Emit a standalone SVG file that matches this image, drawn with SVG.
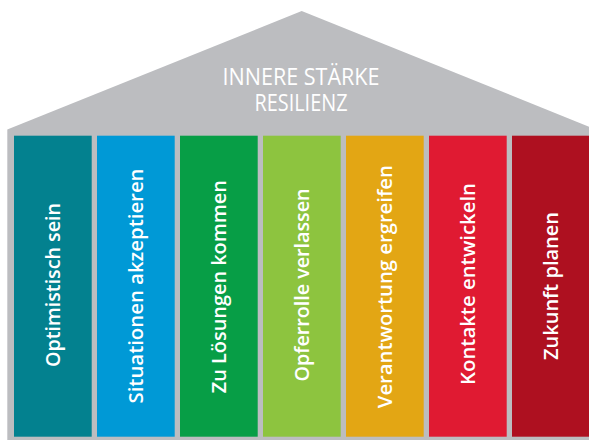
<svg xmlns="http://www.w3.org/2000/svg" width="589" height="440" viewBox="0 0 589 440">
  <style>
    .house { fill: #bcbdc0; }
    .roof-label { font-family: "Open Sans", "Liberation Sans", sans-serif; font-size: 24px; font-weight: 500; fill: #ffffff; text-anchor: middle; }
    .pillar-label { font-family: "Open Sans", "Liberation Sans", sans-serif; font-size: 19px; font-weight: 600; fill: #ffffff; text-anchor: middle; }
  </style>

  <!-- house body: roof triangle with the wall behind the pillars -->
  <g id="house">
    <polygon class="house" points="7.3,129.5 301.7,11 596,129.5 596,440 7.3,440"/>
    <text class="roof-label" x="301" y="84.5" textLength="157" lengthAdjust="spacingAndGlyphs">INNERE STÄRKE</text>
    <text class="roof-label" x="301" y="111" textLength="93" lengthAdjust="spacingAndGlyphs">RESILIENZ</text>
  </g>

  <!-- pillars -->
  <g id="pillar-1">
    <rect x="14" y="135.7" width="77.7" height="301" fill="#03818f"/>
    <text class="pillar-label" transform="translate(59.5,285) rotate(-90)" textLength="164" lengthAdjust="spacingAndGlyphs">Optimistisch sein</text>
  </g>
  <g id="pillar-2">
    <rect x="97" y="135.7" width="77.7" height="301" fill="#0099d6"/>
    <text class="pillar-label" transform="translate(142.5,286) rotate(-90)" textLength="235" lengthAdjust="spacingAndGlyphs">Situationen akzeptieren</text>
  </g>
  <g id="pillar-3">
    <rect x="180" y="135.7" width="77.7" height="301" fill="#079e46"/>
    <text class="pillar-label" transform="translate(225.5,286.7) rotate(-90)" textLength="213" lengthAdjust="spacingAndGlyphs">Zu Lösungen kommen</text>
  </g>
  <g id="pillar-4">
    <rect x="263" y="135.7" width="77.7" height="301" fill="#8dc43f"/>
    <text class="pillar-label" transform="translate(308.5,285) rotate(-90)" textLength="193" lengthAdjust="spacingAndGlyphs">Opferrolle verlassen</text>
  </g>
  <g id="pillar-5">
    <rect x="346" y="135.7" width="77.7" height="301" fill="#e3a614"/>
    <text class="pillar-label" transform="translate(391.5,286.7) rotate(-90)" textLength="243" lengthAdjust="spacingAndGlyphs">Verantwortung ergreifen</text>
  </g>
  <g id="pillar-6">
    <rect x="429" y="135.7" width="77.7" height="301" fill="#e01a32"/>
    <text class="pillar-label" transform="translate(474.7,284) rotate(-90)" textLength="202" lengthAdjust="spacingAndGlyphs">Kontakte entwickeln</text>
  </g>
  <g id="pillar-7">
    <rect x="512" y="135.7" width="80" height="301" fill="#ae1020"/>
    <text class="pillar-label" transform="translate(557.5,286) rotate(-90)" textLength="148" lengthAdjust="spacingAndGlyphs">Zukunft planen</text>
  </g>

  <!-- no connectors in this diagram -->
  <g id="connectors"/>
</svg>
